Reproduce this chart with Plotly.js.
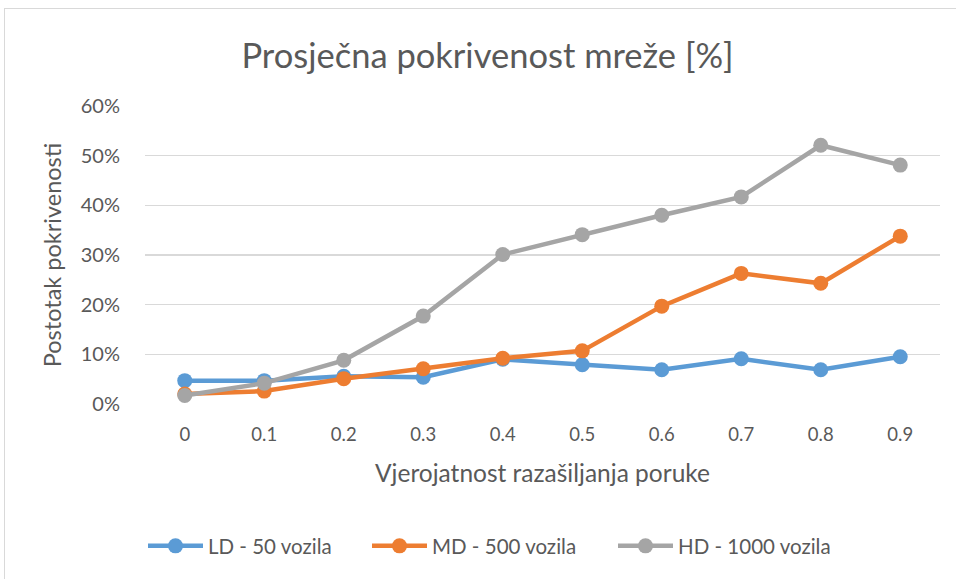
<!DOCTYPE html>
<html>
<head>
<meta charset="utf-8">
<script src="https://cdn.plot.ly/plotly-3.0.1.min.js"></script>
<style>
html,body{margin:0;padding:0;background:#fff;overflow:hidden;}
#frame{position:absolute;left:4px;top:8px;width:1100px;height:800px;border:1.5px solid #d9d9d9;box-sizing:border-box;}
#chart{position:absolute;left:0;top:0;width:956px;height:579px;}
</style>
</head>
<body>
<div id="frame"></div>
<div id="chart"></div>
<script>
const categories = ['0','0.1','0.2','0.3','0.4','0.5','0.6','0.7','0.8','0.9'];
const ldValues = [4.7, 4.7, 5.6, 5.4, 9.0, 7.9, 6.9, 9.1, 6.9, 9.5];
const mdValues = [2.0, 2.6, 5.1, 7.1, 9.2, 10.7, 19.7, 26.3, 24.3, 33.8];
const hdValues = [1.7, 4.2, 8.8, 17.7, 30.1, 34.1, 38.0, 41.7, 52.1, 48.1];
const seriesNames = ['LD - 50 vozila', 'MD - 500 vozila', 'HD - 1000 vozila'];
const yTicks = [0, 10, 20, 30, 40, 50, 60];
const yTickLabels = ['0%', '10%', '20%', '30%', '40%', '50%', '60%'];

const colors = ['#5B9BD5', '#ED7D31', '#A5A5A5'];
const font = 'Lato, "Open Sans", sans-serif';
const legendIds = ['legend', 'legend2', 'legend3'];
const legendX = [143, 367, 613];

const traces = [ldValues, mdValues, hdValues].map((vals, i) => ({
  type: 'scatter',
  mode: 'lines+markers',
  x: categories,
  y: vals,
  name: seriesNames[i],
  legend: legendIds[i],
  line: {color: colors[i], width: 4.5},
  marker: {color: colors[i], size: 15}
}));

const layout = {
  width: 956, height: 579,
  paper_bgcolor: 'rgba(0,0,0,0)',
  plot_bgcolor: 'rgba(0,0,0,0)',
  margin: {l: 145, r: 16, t: 106, b: 175},
  font: {family: font, color: '#595959', size: 18},
  title: {text: 'Prosječna pokrivenost mreže [%]', x: 0.51, xanchor: 'center', xref: 'container', y: 0.903, yanchor: 'middle', yref: 'container', font: {size: 34.5, family: font, color: '#595959'}},
  xaxis: {
    type: 'category',
    range: [-0.5, 9.5],
    showgrid: false,
    zeroline: false,
    showline: false,
    ticks: 'outside', ticklen: 14, tickcolor: 'rgba(0,0,0,0)',
    tickfont: {size: 18.5},
    title: {text: 'Vjerojatnost razašiljanja poruke', font: {size: 24.5}, standoff: 20}
  },
  yaxis: {
    range: [0, 60],
    tickmode: 'array',
    tickvals: yTicks,
    ticktext: yTickLabels,
    showgrid: true, gridcolor: '#d9d9d9', gridwidth: 1.5,
    zeroline: false, showline: false,
    ticks: 'outside', ticklen: 20, tickcolor: 'rgba(0,0,0,0)',
    tickfont: {size: 20},
    title: {text: 'Postotak pokrivenosti', font: {size: 23.5}, standoff: 12}
  },
  showlegend: true
};

legendIds.forEach((id, i) => {
  layout[id] = {
    orientation: 'h', x: legendX[i] / 956, xanchor: 'left', xref: 'container',
    y: 0.057, yanchor: 'middle', yref: 'container',
    font: {size: 20.5}, itemwidth: 55, bgcolor: 'rgba(0,0,0,0)'
  };
});

Plotly.newPlot('chart', traces, layout, {displayModeBar: false, staticPlot: true});
</script>
</body>
</html>
